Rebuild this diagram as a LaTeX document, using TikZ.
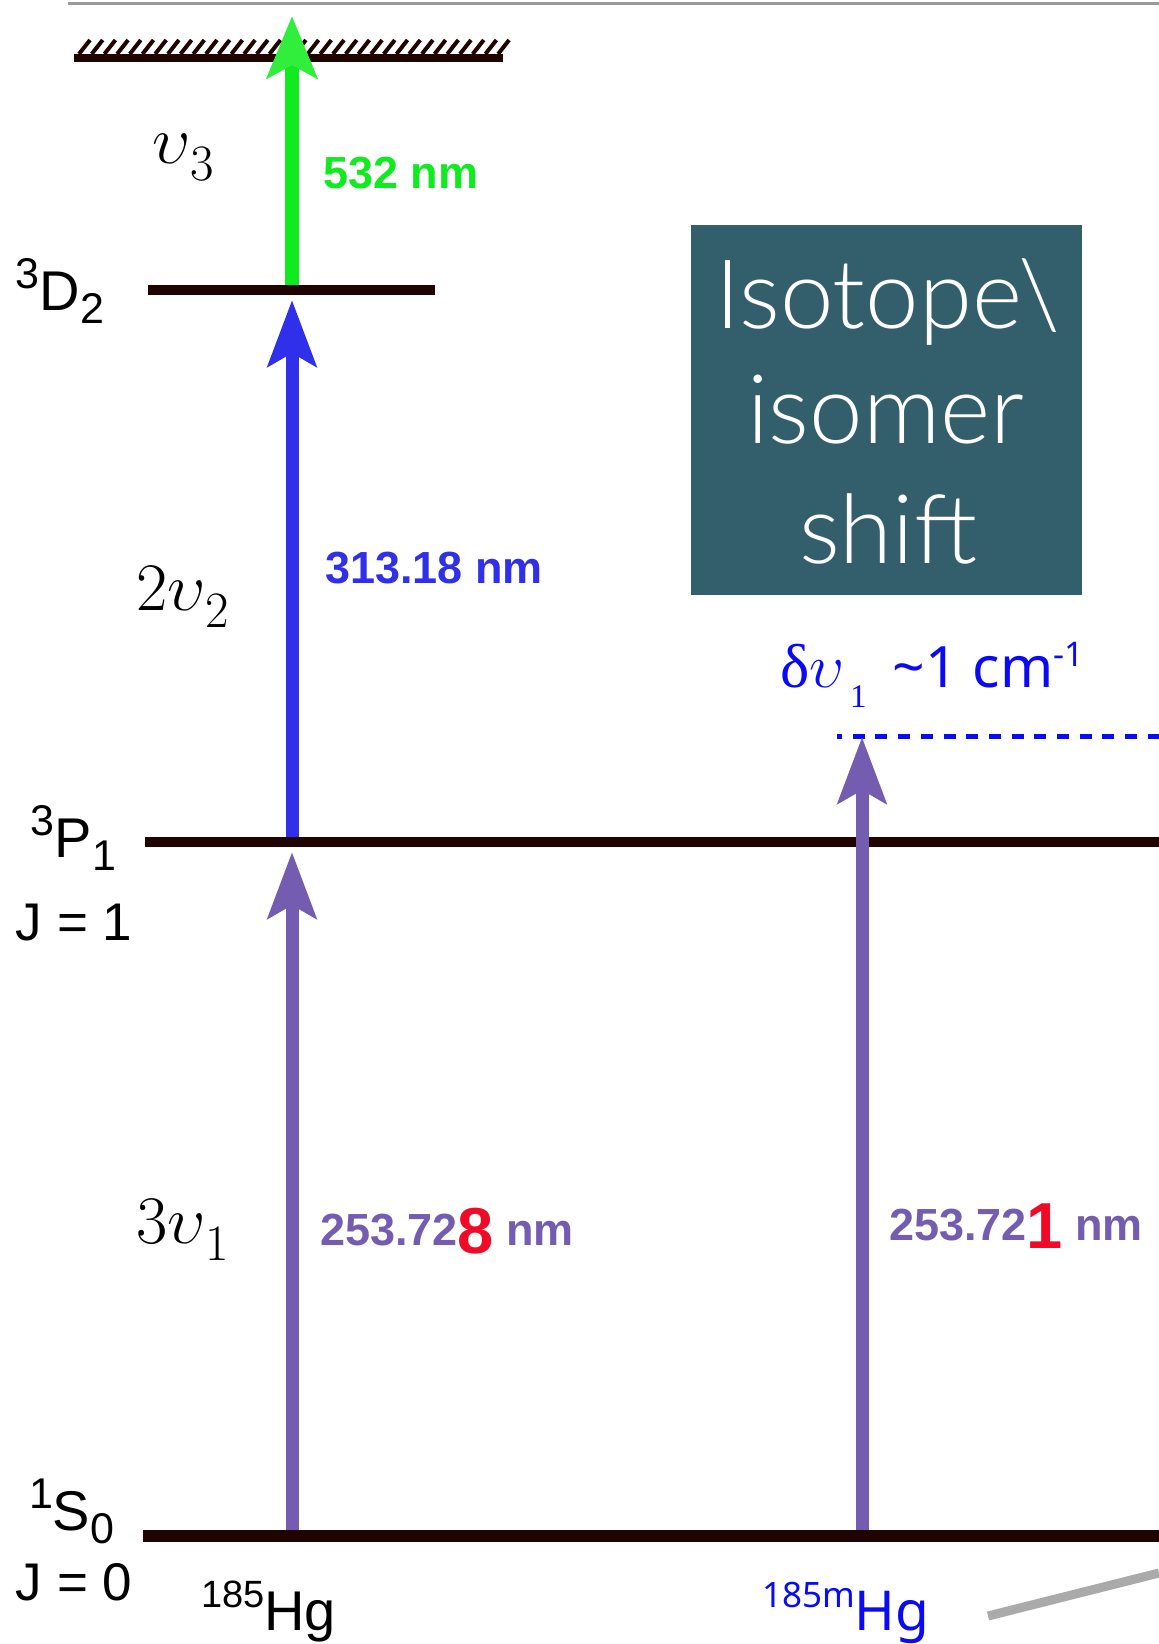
\RequirePackage{fix-cm}
\documentclass[tikz,border=0pt]{standalone}
\usepackage{fontspec}
\setmainfont{Liberation Sans}
\newfontfamily\notosans{Noto Sans}
\newfontfamily\lserif{Liberation Serif}
\IfFontExistsTF{Lato Light}{\newfontfamily\boxfont{Lato Light}}{\newfontfamily\boxfont{Liberation Sans}}
\usetikzlibrary{arrows.meta}
\definecolor{lvl}{RGB}{32,4,0}
\definecolor{grn}{RGB}{15,235,30}
\definecolor{grnhead}{RGB}{50,238,60}
\definecolor{blu}{RGB}{48,48,235}
\definecolor{pur}{RGB}{116,92,177}
\definecolor{redd}{RGB}{240,10,40}
\definecolor{dblue}{RGB}{10,10,245}
\definecolor{boxc}{RGB}{51,94,107}
\definecolor{gray1}{RGB}{155,155,155}
\definecolor{gray2}{RGB}{170,170,170}
\newcommand\lvlab[3]{\raisebox{11pt}{\fontsize{21.5}{22}\selectfont #1}#2\raisebox{-6.5pt}{\fontsize{21.5}{22}\selectfont #3}}
\newcommand\isolab[3]{\raisebox{11.5pt}{\fontsize{#1}{20}\selectfont #2}#3}
\newcommand\ups[2]{$#1\upsilon$\raisebox{-8.5pt}{\fontsize{25.5}{26}\selectfont$#2$}}
\begin{document}
\begin{tikzpicture}[x=0.5pt,y=-0.5pt,
  txt/.style={anchor=base west, inner sep=0pt, outer sep=0pt},
  lvllab/.style={txt, font=\fontsize{28}{30}\selectfont},
  jlab/.style={txt, font=\fontsize{26.5}{28}\selectfont},
  greek/.style={txt, font=\fontsize{34}{36}\selectfont},
  nmlab/.style={txt, font=\bfseries\fontsize{22.5}{24}\selectfont},
  boxtxt/.style={anchor=base, inner sep=0pt, text=white, font=\boxfont\fontsize{48}{50}\selectfont},
  lvline/.style={draw=lvl, line width=5pt},
  arr/.style={line width=6.5pt, -{Stealth[length=33pt, width=24pt, inset=6.5pt]}},
]
\useasboundingbox (0,0) rectangle (1159,1644);
\fill[white] (0,0) rectangle (1159,1644);

% top gray rule
\coordinate (gtl) at (68,3); \coordinate (gtr) at (1159,3);
\draw[gray1, line width=1.5pt] (gtl) -- (gtr);

% ground (continuum)
\coordinate (gndL) at (74,57.5); \coordinate (gndR) at (503,57.5);
\draw[lvl, line width=4pt] (gndL) -- (gndR);
\foreach \i in {0,...,33} \draw[lvl, line width=2pt] (79+\i*12.7,54) -- ++(11,-14);

% levels
\coordinate (D2L) at (148,290); \coordinate (D2R) at (435,290);
\coordinate (P1L) at (145,842); \coordinate (P1R) at (1159,842);
\coordinate (S0L) at (143,1536); \coordinate (S0R) at (1159,1536);
\draw[lvline] (D2L) -- (D2R);
\draw[lvline] (P1L) -- (P1R);
\draw[lvline, line width=5.75pt] (S0L) -- (S0R);

% dashed shifted level
\coordinate (dL) at (837,736); \coordinate (dR) at (1159,736);
\draw[dblue, line width=2.5pt, dash pattern=on 6pt off 5.35pt, dash phase=3.5pt] (dL) -- (dR);

% arrows
\coordinate (gA) at (292,285); \coordinate (gB) at (292,16);
\coordinate (bA) at (292,837); \coordinate (bB) at (292,300);
\coordinate (pA) at (292,1530); \coordinate (pB) at (292,852);
\coordinate (qA) at (862,1530); \coordinate (qB) at (862,737);
\draw[grn, line width=7pt, -{Stealth[length=31pt, width=25pt, inset=6.5pt, color=grnhead]}] (gA) -- (gB);
\draw[arr, blu] (bA) -- (bB);
\draw[arr, pur] (pA) -- (pB);
\draw[arr, pur] (qA) -- (qB);

% bottom gray stroke
\coordinate (gbA) at (988,1616); \coordinate (gbB) at (1159,1573);
\draw[gray2, line width=4.5pt] (gbA) -- (gbB);

% box
\node[fill=boxc, inner sep=0pt, minimum width=195.5pt, minimum height=185pt, anchor=north west] (box) at (691,225) {};
\node[boxtxt] (t1) at (888,328) {Isotope\textbackslash};
\node[boxtxt] (t2) at (886,443) {isomer};
\node[boxtxt] (t3) at (888,563) {shift};

% level labels
\node[lvllab] (lD) at (16,310) {\lvlab{3}{D}{2}};
\node[lvllab] (lP) at (31,857) {\lvlab{3}{P}{1}};
\node[jlab] (lJ1) at (16,940) {J = 1};
\node[lvllab] (lS) at (29,1530) {\lvlab{1}{S}{0}};
\node[jlab] (lJ0) at (16,1600) {J = 0};
\node[jlab] (hg1) at (201,1630) {\isolab{19}{185}{\fontsize{28}{30}\selectfont Hg}};
\node[txt, text=dblue, font=\notosans\fontsize{27.5}{30}\selectfont] (hg2) at (762,1630) {\isolab{17.5}{185m}{Hg}};

% photon labels
\node[greek] (n3) at (152,163) {\ups{}{3}};
\node[greek] (n2) at (136,610) {\ups{2}{2}};
\node[greek] (n1) at (136,1243) {\ups{3}{1}};

\node[nmlab, text=grn] (w3) at (323,188) {532 nm};
\node[nmlab, text=blu] (w2) at (325,583) {313.18 nm};
\node[nmlab, text=pur] (w1) at (320,1245) {253.72\raisebox{-4pt}{\fontsize{32.5}{33}\selectfont\color{redd}8} nm};
\node[nmlab, text=pur] (w1m) at (889,1240) {253.72\raisebox{-4pt}{\fontsize{32.5}{33}\selectfont\color{redd}1} nm};

% shift label
\node[txt, text=dblue] (dshift) at (780,687) {\lserif\fontsize{31}{31}\selectfont δ$\upsilon$\hspace{3pt}\raisebox{-10pt}{\fontsize{16.5}{17}\selectfont 1}\hspace{13pt}\notosans\fontsize{28.5}{29}\selectfont\textasciitilde 1 cm\raisebox{10.5pt}{\fontsize{17}{17}\selectfont -1}};
\end{tikzpicture}
\end{document}
